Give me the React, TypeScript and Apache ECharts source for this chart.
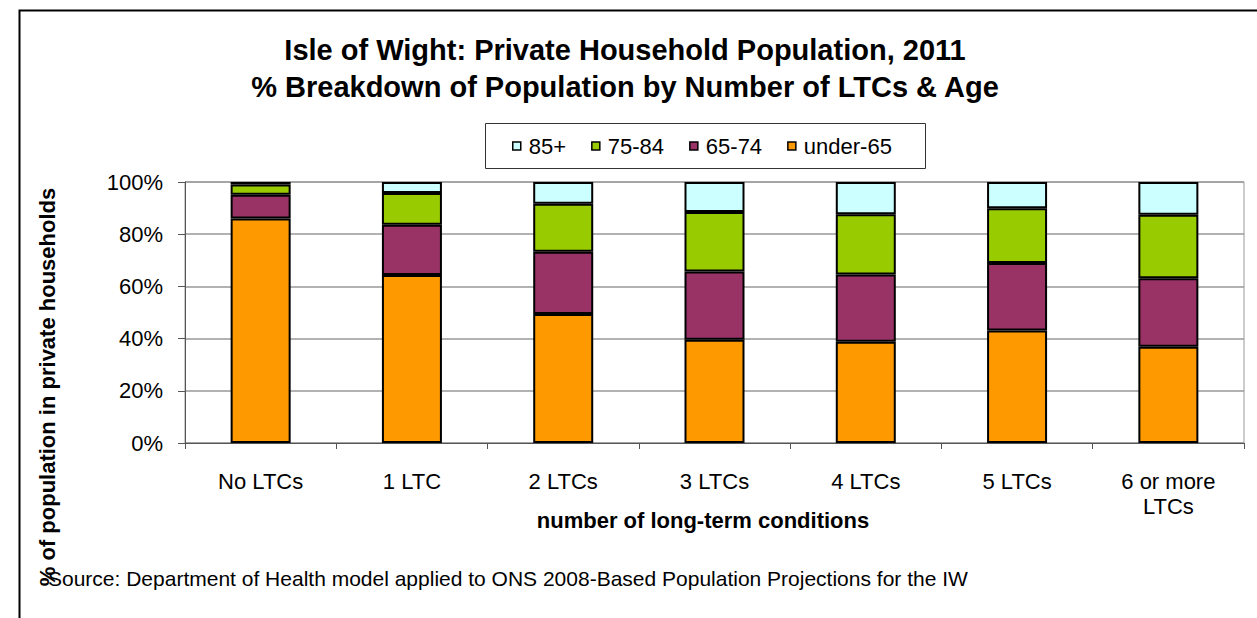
import React, { useEffect, useRef } from "react";
import * as echarts from "echarts";

const categories = ["No LTCs", "1 LTC", "2 LTCs", "3 LTCs", "4 LTCs", "5 LTCs", "6 or more\nLTCs"];
const under65 = [86.0, 64.4, 49.4, 39.6, 38.8, 43.1, 36.9];
const age65to74 = [9.1, 19.2, 23.9, 26.1, 25.8, 25.9, 26.2];
const age75to84 = [3.9, 12.2, 18.4, 22.8, 23.0, 20.9, 24.4];
const age85plus = [1.0, 4.2, 8.3, 11.5, 12.4, 10.1, 12.5];
const yTicks = [0, 20, 40, 60, 80, 100];

const FONT = "'Liberation Sans', Arial, sans-serif";

export default function App() {
  const ref = useRef<HTMLDivElement>(null);
  useEffect(() => {
    if (!ref.current) return;
    const chart = echarts.init(ref.current, null, { renderer: "svg" });
    const mk = (name: string, data: number[], color: string) => ({
      name,
      type: "bar",
      stack: "total",
      data,
      barWidth: 60,
      itemStyle: { color, borderColor: "#000", borderWidth: 2 },
    });
    chart.setOption({
      animation: false,
      backgroundColor: "#fff",
      textStyle: { fontFamily: FONT },
      title: {
        text: "Isle of Wight: Private Household Population, 2011\n% Breakdown of Population by Number of LTCs & Age",
        left: 625,
        textAlign: "center",
        top: 31,
        padding: 0,
        textStyle: { fontFamily: FONT, fontSize: 29, fontWeight: "bold", color: "#000", lineHeight: 37 },
      },
      legend: {
        data: ["85+", "75-84", "65-74", "under-65"],
        left: 512,
        top: 135,
        padding: 0,
        icon: "rect",
        itemWidth: 8,
        itemHeight: 8,
        itemGap: 25,
        selectedMode: false,
        itemStyle: { borderColor: "#000", borderWidth: 1.5 },
        textStyle: { fontFamily: FONT, fontSize: 22, color: "#000", padding: [0, 0, 0, 3] },
      },
      grid: { left: 185, right: 13, top: 182, bottom: 175, show: true, borderColor: "#999", borderWidth: 1 },
      xAxis: {
        type: "category",
        data: categories,
        axisLine: { lineStyle: { color: "#555", width: 1 } },
        axisTick: { show: true, length: 6, lineStyle: { color: "#555" } },
        axisLabel: { fontFamily: FONT, fontSize: 22, color: "#000", margin: 26, lineHeight: 25, interval: 0 },
      },
      yAxis: {
        type: "value",
        min: yTicks[0],
        max: yTicks[yTicks.length - 1],
        interval: 20,
        axisLine: { show: true, lineStyle: { color: "#555", width: 1 } },
        axisTick: { show: true, length: 7, lineStyle: { color: "#555" } },
        axisLabel: { fontFamily: FONT, fontSize: 22, color: "#000", margin: 22, formatter: "{value}%" },
        splitLine: { lineStyle: { color: "#999", width: 1.5 } },
      },
      graphic: [
        {
          type: "rect",
          left: 17,
          top: 8,
          shape: { width: 1300, height: 700 },
          style: { fill: "none", stroke: "#000", lineWidth: 2 },
          silent: true,
        },
        {
          type: "rect",
          left: 483,
          top: 121,
          shape: { width: 440, height: 45 },
          style: { fill: "none", stroke: "#333", lineWidth: 1 },
          silent: true,
        },
        {
          type: "text",
          x: 703,
          y: 520,
          style: {
            text: "number of long-term conditions",
            fontFamily: FONT,
            fontSize: 22,
            fontWeight: "bold",
            fill: "#000",
            align: "center",
            verticalAlign: "middle",
          },
        },
        {
          type: "text",
          x: 47,
          y: 387,
          rotation: Math.PI / 2,
          style: {
            text: "% of population in private households",
            fontFamily: FONT,
            fontSize: 22,
            fontWeight: "bold",
            fill: "#000",
            align: "center",
            verticalAlign: "middle",
          },
        },
        {
          type: "text",
          x: 48,
          y: 578,
          style: {
            text: "Source: Department of Health model applied to ONS 2008-Based Population Projections for the IW",
            fontFamily: FONT,
            fontSize: 21,
            fill: "#000",
            align: "left",
            verticalAlign: "middle",
          },
        },
      ],
      series: [
        mk("under-65", under65, "#FF9900"),
        mk("65-74", age65to74, "#993366"),
        mk("75-84", age75to84, "#99CC00"),
        mk("85+", age85plus, "#CCFFFF"),
      ],
    });
    return () => chart.dispose();
  }, []);
  return (
    <div
      ref={ref}
      style={{ position: "absolute", left: 0, top: 0, width: 1257, height: 618, background: "#fff" }}
    />
  );
}
